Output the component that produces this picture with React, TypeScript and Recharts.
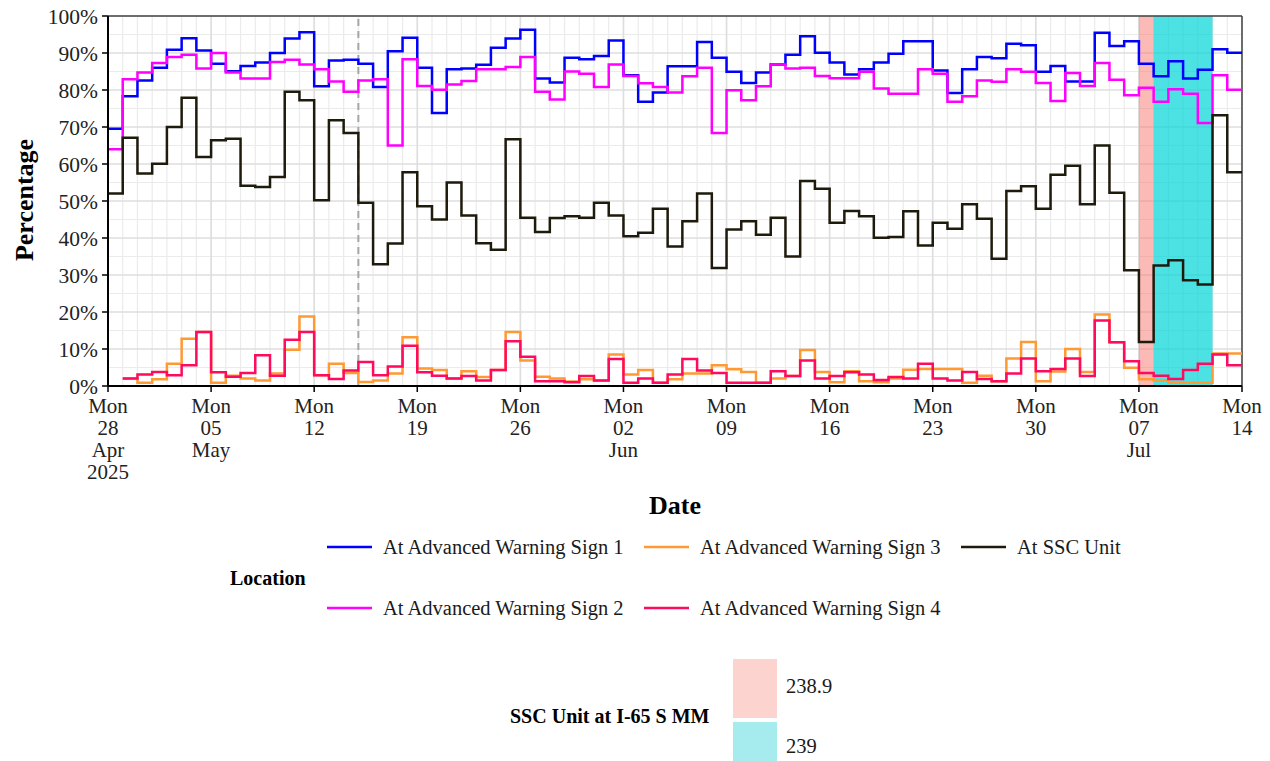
import { LineChart, Line, XAxis, YAxis, CartesianGrid, ReferenceLine, ReferenceArea } from 'recharts'

const FONT = '"Liberation Serif", "Times New Roman", serif'

// day index 0 = Mon 28 Apr 2025
const days = Array.from({ length: 78 }, (_, i) => i)

const sign1 = [
  69.5, 78.3, 82.6, 86, 90.9, 94, 90.7, 87.1, 85.1, 86.5, 87.4, 90, 93.9, 95.6, 81, 88, 88.2, 87.1, 80.8, 90.5,
  94.1, 86, 73.8, 85.6, 85.8, 86.8, 91.4, 93.9, 96.3, 83.1, 82, 88.7, 88.3, 89.2, 93.4, 84, 76.8, 79.3, 86.4, 86.4,
  93, 88.7, 84.9, 81.9, 84.7, 86.9, 89.5, 94.5, 90.1, 87.4, 84.2, 85.6, 87.4, 89.8, 93.2, 93.2, 85.3, 79.2, 85.6, 88.9,
  88.6, 92.5, 92.1, 84.9, 86.5, 82.3, 82.3, 95.5, 91.9, 93.2, 87.1, 83.7, 87.8, 83.1, 85.5, 91, 90.1, 90.1,
]
const sign2 = [
  64, 82.9, 84.7, 87.3, 88.9, 89.5, 85.8, 90, 84.7, 83.1, 83.1, 87.6, 88.2, 86.9, 85.6, 82.3, 79.5, 82.6, 82.9, 65,
  88.3, 81.1, 80.1, 81.5, 82.4, 85.6, 85.6, 86.2, 88.9, 79.5, 77.4, 85, 84.4, 80.8, 86.9, 83.8, 81.8, 80.8, 79.3, 83.7,
  86, 68.4, 79.9, 77.2, 81, 86.9, 85.8, 86, 83.8, 83.2, 83.2, 84.9, 80.4, 79, 79, 85.6, 84.4, 76.8, 78.3, 82.6,
  82.2, 85.6, 84.9, 81.9, 77, 84.6, 81.1, 87.3, 82.8, 78.6, 80.6, 76.8, 80.2, 79, 71.1, 84, 80.1, 80.1,
]
const sign3 = [
  null, 2, 0.9, 1.8, 6, 12.8, 14.6, 0.9, 2.8, 2, 1.5, 3.4, 9.8, 18.8, 2.9, 6, 3.5, 1.1, 1.5, 3.4,
  13.2, 4.7, 4.3, 2, 4, 2.4, 4.3, 14.6, 6.9, 2.5, 2, 1.2, 1.8, 1.5, 8.5, 3.1, 4.3, 0.9, 1.8, 3.4,
  3.4, 5.6, 4.5, 3.8, 0.9, 2, 2.7, 9.7, 3.8, 1, 4, 1.3, 1, 2, 4.4, 4.6, 4.6, 4.6, 0.9, 2.8,
  1.3, 7.4, 11.9, 1.3, 3.9, 10, 3.8, 19.3, 11.8, 4.9, 1.8, 1.5, 0.9, 0.9, 0.9, 8.8, 8.8, 8.8,
]
const sign4 = [
  null, 2, 3.1, 3.8, 2.9, 5.6, 14.6, 3.7, 2.5, 3.5, 8.3, 2.8, 12.5, 14.6, 2.9, 1.9, 4.2, 6.5, 2.9, 5.3,
  10.9, 3.7, 2.8, 2, 2.7, 1.5, 4.3, 12.1, 7.9, 1.3, 1.3, 1, 2.7, 1.5, 7.3, 0.9, 2, 0.9, 3.1, 7.3,
  4.2, 3.5, 0.9, 0.9, 0.9, 4, 2.7, 6.9, 2, 2.7, 3.7, 3.1, 1.6, 2.4, 2, 6, 2, 1.5, 3.8, 1.9,
  1.3, 3.4, 7.4, 4, 4.6, 7.4, 2.7, 17.7, 11.8, 6.7, 3.5, 2.8, 1.9, 4.3, 6, 8.5, 5.6, 5.6,
]
const sscUnit = [
  52, 67.1, 57.4, 60.1, 70, 77.9, 61.9, 66.4, 66.8, 54.1, 53.8, 56.5, 79.5, 77.2, 50.2, 71.8, 68.4, 49.5, 32.9, 38.5,
  57.8, 48.6, 45, 55, 46.1, 38.6, 36.8, 66.7, 45.5, 41.6, 45.4, 45.9, 45.5, 49.5, 46.1, 40.5, 41.4, 47.9, 37.7, 44.5,
  52, 31.9, 42.3, 44.5, 40.9, 45.5, 35, 55.4, 53.3, 44.1, 47.3, 45.9, 40.1, 40.3, 47.2, 38, 44.1, 42.5, 49.1, 45.2,
  34.4, 52.7, 54, 47.9, 57.1, 59.5, 49.1, 65, 52.2, 31.3, 11.9, 32.6, 34, 28.6, 27.4, 73.2, 57.8, 57.8,
]

const tickDays = [0, 7, 14, 21, 28, 35, 42, 49, 56, 63, 70, 77]
const tickLabels = [
  ['Mon', '28', 'Apr', '2025'],
  ['Mon', '05', 'May'],
  ['Mon', '12'],
  ['Mon', '19'],
  ['Mon', '26'],
  ['Mon', '02', 'Jun'],
  ['Mon', '09'],
  ['Mon', '16'],
  ['Mon', '23'],
  ['Mon', '30'],
  ['Mon', '07', 'Jul'],
  ['Mon', '14'],
]
const pctTicks = [0, 10, 20, 30, 40, 50, 60, 70, 80, 90, 100]
const pctMinor = [5, 15, 25, 35, 45, 55, 65, 75, 85, 95]
const dayMinor = days.filter((d) => d % 7 !== 0)

// SSC unit mile marker periods (day index)
const mm2389 = [70, 71]
const mm239 = [71, 75]
const dashedDay = 17

const series = [
  { key: 'sign1', name: 'At Advanced Warning Sign 1', color: '#0000ff' },
  { key: 'sign2', name: 'At Advanced Warning Sign 2', color: '#ff00ff' },
  { key: 'sign3', name: 'At Advanced Warning Sign 3', color: '#ff9933' },
  { key: 'sign4', name: 'At Advanced Warning Sign 4', color: '#ff0a5e' },
  { key: 'ssc', name: 'At SSC Unit', color: '#1e1a0c' },
]

const rows = days.map((d, i) => ({
  d,
  sign1: sign1[i],
  sign2: sign2[i],
  sign3: sign3[i],
  sign4: sign4[i],
  ssc: sscUnit[i],
}))

function DateTick(props: any) {
  const { x, y, payload } = props
  const idx = tickDays.indexOf(payload.value)
  const lines = idx >= 0 ? tickLabels[idx] : []
  return (
    <text x={x} y={y} textAnchor="middle" fontFamily={FONT} fontSize={21} fill="#222">
      {lines.map((l, i) => (
        <tspan key={i} x={x} dy={i === 0 ? 19 : 22}>
          {l}
        </tspan>
      ))}
    </text>
  )
}

function Legends() {
  const rowsY = [547, 608]
  const colX = [327, 644, 961]
  const order = [
    [series[0], series[2], series[4]],
    [series[1], series[3]],
  ]
  return (
    <svg
      width={1270}
      height={761}
      style={{ position: 'absolute', left: 0, top: 0, pointerEvents: 'none' }}
      fontFamily={FONT}
    >
      <text transform="translate(33,200) rotate(-90)" textAnchor="middle" fontSize={26} fontWeight="bold" fill="#000">
        Percentage
      </text>
      <text x={675} y={514} textAnchor="middle" fontSize={26} fontWeight="bold" fill="#000">
        Date
      </text>
      <text x={230} y={585} fontSize={20} fontWeight="bold" fill="#000">
        Location
      </text>
      {order.map((row, r) =>
        row.map((s, c) => (
          <g key={s.key}>
            <line x1={colX[c]} x2={colX[c] + 45} y1={rowsY[r]} y2={rowsY[r]} stroke={s.color} strokeWidth={2.5} />
            <text x={colX[c] + 56} y={rowsY[r] + 7} fontSize={20.5} fill="#1a1a1a">
              {s.name}
            </text>
          </g>
        )),
      )}
      <text x={510} y={723} fontSize={20} fontWeight="bold" fill="#000">
        SSC Unit at I-65 S MM
      </text>
      <rect x={733} y={659} width={44} height={59} fill="#fcd3cf" />
      <rect x={733} y={722} width={44} height={45} fill="#a6ecee" />
      <text x={786} y={693} fontSize={20.5} fill="#1a1a1a">
        238.9
      </text>
      <text x={786} y={753} fontSize={20.5} fill="#1a1a1a">
        239
      </text>
    </svg>
  )
}

export default function App() {
  return (
    <div style={{ position: 'absolute', left: 0, top: 0, width: 1270, height: 761, background: '#fff' }}>
      <LineChart width={1270} height={761} data={rows} margin={{ top: 16, right: 28, bottom: 275, left: 0 }}>
        <CartesianGrid
          horizontalValues={pctMinor}
          verticalValues={dayMinor}
          stroke="#ebebeb"
          strokeWidth={1.2}
        />
        <CartesianGrid
          horizontalValues={pctTicks}
          verticalValues={tickDays}
          stroke="#dedede"
          strokeWidth={1.7}
        />
        <XAxis
          dataKey="d"
          type="number"
          domain={[0, 77]}
          ticks={tickDays}
          interval={0}
          height={100}
          tick={<DateTick />}
          tickSize={6}
          axisLine={{ stroke: '#000', strokeWidth: 2 }}
          tickLine={{ stroke: '#000', strokeWidth: 1.5 }}
          allowDataOverflow
        />
        <YAxis
          type="number"
          domain={[0, 100]}
          ticks={pctTicks}
          interval={0}
          width={108}
          tickFormatter={(v: number) => `${v}%`}
          tick={{ fontFamily: FONT, fontSize: 21.5, fill: '#222' }}
          tickSize={6}
          tickMargin={4}
          axisLine={{ stroke: '#000', strokeWidth: 2 }}
          tickLine={{ stroke: '#000', strokeWidth: 1.5 }}
        />
        <ReferenceArea x1={mm2389[0]} x2={mm2389[1]} y1={0} y2={100} fill="#f8766d" fillOpacity={0.5} stroke="none" />
        <ReferenceArea x1={mm239[0]} x2={mm239[1]} y1={0} y2={100} fill="#00d5d8" fillOpacity={0.7} stroke="none" />
        <ReferenceLine x={dashedDay} stroke="#a6a6a6" strokeWidth={2} strokeDasharray="7 5" />
        <ReferenceLine y={100} stroke="#444" strokeWidth={1.5} />
        <ReferenceLine x={77} stroke="#444" strokeWidth={1.5} />
        {series.map((s) => (
          <Line
            key={s.key}
            dataKey={s.key}
            name={s.name}
            type="stepAfter"
            stroke={s.color}
            strokeWidth={2.5}
            dot={false}
            activeDot={false}
            isAnimationActive={false}
          />
        ))}
      </LineChart>
      <Legends />
    </div>
  )
}
